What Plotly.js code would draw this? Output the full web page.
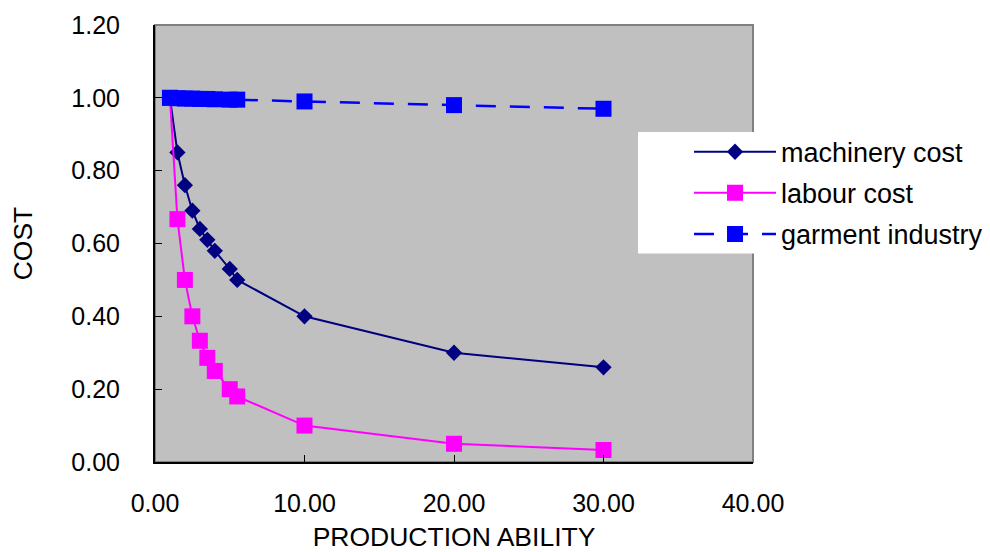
<!DOCTYPE html>
<html>
<head>
<meta charset="utf-8">
<script src="https://cdn.plot.ly/plotly-3.0.1.min.js"></script>
<style>html,body{margin:0;padding:0;background:#fff;}#chart{width:990px;height:552px;}</style>
</head>
<body>
<div id="chart"></div>
<script>
var productionAbility = [1, 1.5, 2, 2.5, 3, 3.5, 4, 5, 5.5, 10, 20, 30];
var machineryCost = [1.00, 0.85, 0.76, 0.69, 0.64, 0.61, 0.58, 0.53, 0.50, 0.40, 0.30, 0.26];
var labourCost = [1.00, 0.667, 0.50, 0.40, 0.333, 0.286, 0.25, 0.20, 0.18, 0.10, 0.05, 0.033];
var garmentIndustry = [1.00, 0.999, 0.998, 0.998, 0.997, 0.997, 0.996, 0.995, 0.995, 0.99, 0.98, 0.97];
var seriesNames = ['machinery cost', 'labour cost', 'garment industry'];

var FONT = '"Liberation Sans", Arial, sans-serif';

var traces = [
  {x: productionAbility, y: machineryCost, name: seriesNames[0], type: 'scatter', mode: 'lines+markers',
   legendgroup: 'a',
   line: {color: '#000080', width: 2}, marker: {symbol: 'diamond', size: 12.5, color: '#000080'}},
  {x: productionAbility, y: labourCost, name: seriesNames[1], type: 'scatter', mode: 'lines+markers',
   legendgroup: 'b',
   line: {color: '#FF00FF', width: 2}, marker: {symbol: 'square', size: 16, color: '#FF00FF'}},
  {x: productionAbility, y: garmentIndustry, name: seriesNames[2], type: 'scatter', mode: 'lines+markers',
   legendgroup: 'c',
   line: {color: '#0000FF', width: 2.5, dash: '20px,14px'}, marker: {symbol: 'square', size: 16, color: '#0000FF'}}
];

var layout = {
  width: 990, height: 552,
  margin: {l: 155, r: 237, t: 25, b: 90, autoexpand: false},
  paper_bgcolor: '#ffffff',
  plot_bgcolor: '#C0C0C0',
  font: {family: FONT, color: '#000', size: 25},
  showlegend: true,
  legend: {
    x: 0.893, y: 0.765, xanchor: 'left', yanchor: 'top',
    bgcolor: 'rgba(0,0,0,0)', borderwidth: 0,
    font: {family: FONT, size: 27, color: '#000'},
    traceorder: 'grouped', tracegroupgap: 3, itemwidth: 82
  },
  xaxis: {
    range: [0, 40], dtick: 10, tick0: 0, tickformat: '.2f',
    showgrid: false, zeroline: false,
    showline: true, linecolor: '#000', linewidth: 2,
    ticks: 'inside', ticklen: 7, tickcolor: '#000', tickwidth: 1,
    ticklabelstandoff: 18,
    tickfont: {family: FONT, size: 25, color: '#000'},
    title: {text: 'PRODUCTION ABILITY', font: {family: FONT, size: 26.5, color: '#000'}, standoff: 19}
  },
  yaxis: {
    range: [0, 1.2], dtick: 0.2, tick0: 0, tickformat: '.2f',
    showgrid: false, zeroline: false,
    showline: true, linecolor: '#000', linewidth: 2,
    ticks: 'inside', ticklen: 7, tickcolor: '#000', tickwidth: 1,
    ticklabelstandoff: 28,
    tickfont: {family: FONT, size: 25, color: '#000'},
    title: {text: 'COST', font: {family: FONT, size: 26.5, color: '#000'}, standoff: 31}
  },
  shapes: [
    {type: 'rect', xref: 'paper', yref: 'paper', x0: 0, x1: 1, y0: 0, y1: 1,
     line: {color: '#808080', width: 2}, fillcolor: 'rgba(0,0,0,0)', layer: 'below'},
    {type: 'rect', xref: 'paper', yref: 'paper', x0: 0.8077, x1: 1.40, y0: 0.477, y1: 0.755,
     line: {width: 0}, fillcolor: '#ffffff', layer: 'above'}
  ]
};

Plotly.newPlot('chart', traces, layout, {displayModeBar: false, staticPlot: true});
</script>
</body>
</html>
